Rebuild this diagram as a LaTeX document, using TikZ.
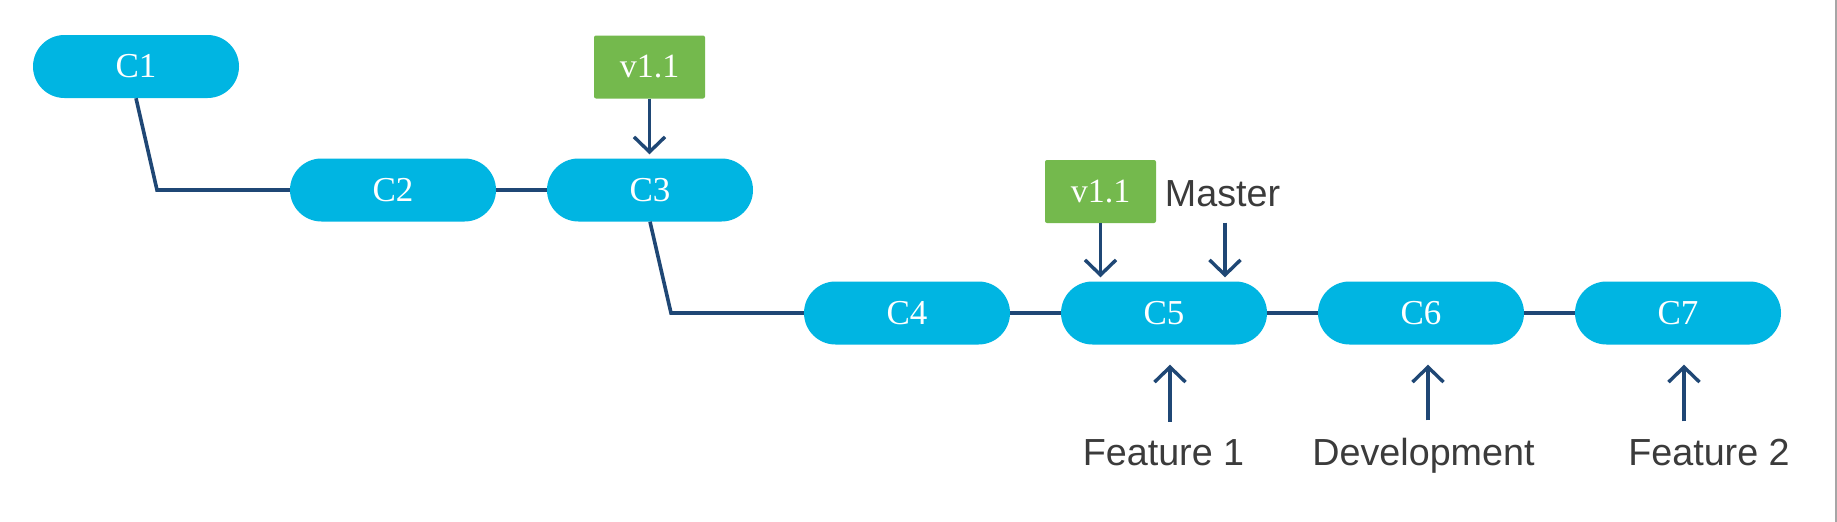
\documentclass[tikz,border=0pt]{standalone}
\usepackage{fontspec}
\setmainfont{Liberation Serif}
\newfontfamily\labelfont{Liberation Sans}
\usetikzlibrary{arrows.meta}
\definecolor{pillblue}{HTML}{00B5E2}
\definecolor{taggreen}{HTML}{74B94D}
\definecolor{linkblue}{HTML}{1F4775}
\definecolor{labelgray}{HTML}{3B3B3B}
\definecolor{edgegray}{HTML}{A6A6A6}
\tikzset{
  commit/.style={fill=pillblue, draw=none, rounded corners=31.5pt,
    minimum width=206pt, minimum height=63pt, inner sep=0pt,
    text=white, font=\fontsize{35}{38}\selectfont},
  tag/.style={fill=taggreen, draw=none, rounded corners=2pt,
    minimum width=111pt, minimum height=63pt, inner sep=0pt,
    text=white, font=\fontsize{34}{37}\selectfont},
  branch/.style={inner sep=0pt, anchor=base, text=labelgray,
    font=\labelfont\fontsize{37.7}{40}\selectfont},
  link/.style={draw=linkblue, line width=3.6pt},
  ptr/.style={draw=linkblue, line width=3.4pt,
    -{Straight Barb[length=15pt,width=31pt]}},
}
\begin{document}
\begin{tikzpicture}[x=1pt,y=-1pt]
\useasboundingbox (0,0) rectangle (1837,522);
\fill[white] (0,0) rectangle (1837,522);
\draw[edgegray, line width=2pt] (1836,0) -- (1836,522);

% commits
\node[commit] (c1) at (136,66.5) {C1};
\node[commit] (c2) at (393,190) {C2};
\node[commit] (c3) at (650,190) {C3};
\node[commit] (c4) at (907,313) {C4};
\node[commit] (c5) at (1164,313) {C5};
\node[commit] (c6) at (1421,313) {C6};
\node[commit] (c7) at (1678,313) {C7};

% tags
\node[tag] (t1) at (649.5,67) {v1.1};
\node[tag] (t2) at (1100.5,191.5) {v1.1};

% branch labels
\node[branch] (master) at (1222.5,206) {Master};
\node[branch] (f1) at (1163.5,465) {Feature 1};
\node[branch] (dev) at (1423.5,465) {Development};
\node[branch] (f2) at (1709,465) {Feature 2};

% history links
\coordinate (k1) at (157,190);
\coordinate (k2) at (671,313);
\draw[link] (c1.south) -- (k1) -- (c2.west);
\draw[link] (c2.east) -- (c3.west);
\draw[link] (c3.south) -- (k2) -- (c4.west);
\draw[link] (c4.east) -- (c5.west);
\draw[link] (c5.east) -- (c6.west);
\draw[link] (c6.east) -- (c7.west);

% pointers
\draw[ptr, shorten >=4pt] (t1.south) -- ([xshift=-0.5pt]c3.north);
\draw[ptr, shorten >=4pt] (t2.south) -- ([xshift=-63.5pt]c5.north);
\draw[ptr, shorten <=16pt, shorten >=4pt] ([xshift=2.5pt]master.south) -- ([xshift=61pt]c5.north);
\draw[ptr, shorten <=17pt, shorten >=20pt] ([xshift=6.5pt]f1.north) -- ([xshift=6pt]c5.south);
\draw[ptr, shorten <=17pt, shorten >=20pt] ([xshift=4.5pt]dev.north) -- ([xshift=7pt]c6.south);
\draw[ptr, shorten <=17pt, shorten >=20pt] ([xshift=-25pt]f2.north) -- ([xshift=6pt]c7.south);
\end{tikzpicture}
\end{document}
